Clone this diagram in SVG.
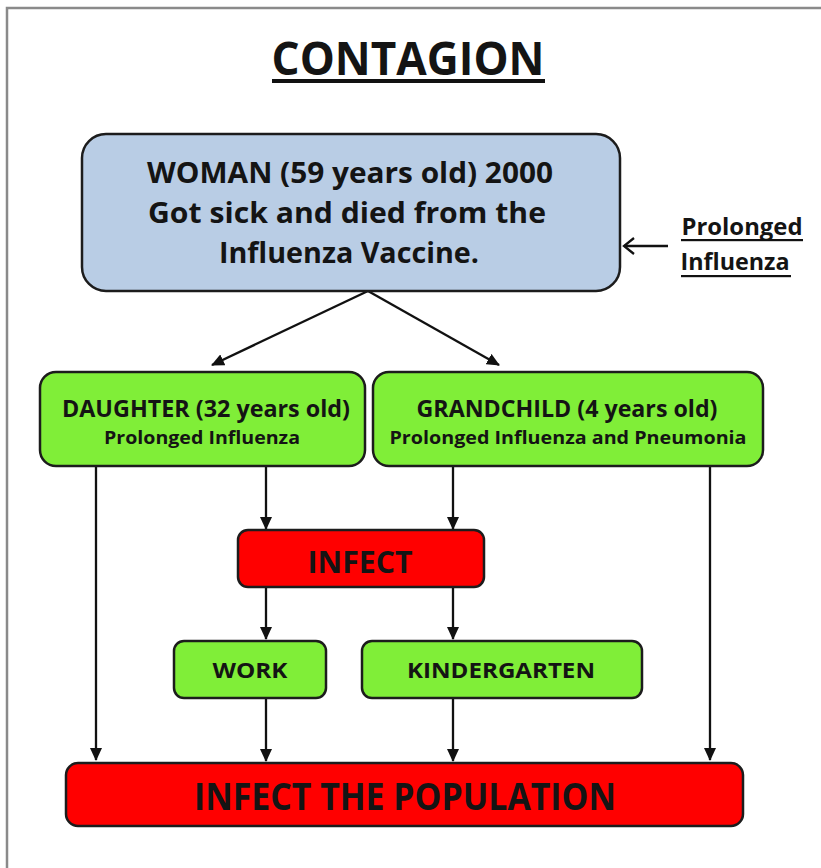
<svg xmlns="http://www.w3.org/2000/svg" width="821" height="868" viewBox="0 0 821 868">
<style>
  text { font-family: "Open Sans", "Liberation Sans", sans-serif; font-weight: 700; fill: #141414; text-anchor: middle; }
  .box { stroke: #1c1c1c; stroke-width: 2.5; }
  .blue { fill: #b9cde5; }
  .green { fill: #80ee38; }
  .red { fill: #ff0000; }
  .conn { stroke: #111; stroke-width: 2.3; fill: none; }
</style>
<defs>
  <marker id="ah" markerWidth="13" markerHeight="12" refX="12" refY="6" orient="auto" markerUnits="userSpaceOnUse">
    <path d="M0,0 L13,6 L0,12 Z" fill="#111"/>
  </marker>
</defs>
<rect x="0" y="0" width="821" height="868" fill="#ffffff"/>
<path d="M7,868 L7,8 L821,8" fill="none" stroke="#8a8a8a" stroke-width="2.5"/>

<g id="title">
  <text x="408" y="75" font-size="46" font-weight="600" textLength="273" lengthAdjust="spacingAndGlyphs">CONTAGION</text>
  <rect x="272" y="79" width="273" height="4" fill="#111"/>
</g>

<g id="connectors">
  <line class="conn" x1="368" y1="291" x2="212" y2="365" marker-end="url(#ah)"/>
  <line class="conn" x1="368" y1="291" x2="499" y2="365" marker-end="url(#ah)"/>
  <line class="conn" x1="668" y1="246" x2="624" y2="246"/>
  <path class="conn" d="M634,238 L624,246 L634,254"/>
  <line class="conn" x1="96" y1="466" x2="96" y2="760" marker-end="url(#ah)"/>
  <line class="conn" x1="266" y1="466" x2="266" y2="529" marker-end="url(#ah)"/>
  <line class="conn" x1="453" y1="466" x2="453" y2="529" marker-end="url(#ah)"/>
  <line class="conn" x1="710" y1="466" x2="710" y2="760" marker-end="url(#ah)"/>
  <line class="conn" x1="266" y1="587" x2="266" y2="639" marker-end="url(#ah)"/>
  <line class="conn" x1="453" y1="587" x2="453" y2="639" marker-end="url(#ah)"/>
  <line class="conn" x1="266" y1="698" x2="266" y2="761" marker-end="url(#ah)"/>
  <line class="conn" x1="453" y1="698" x2="453" y2="761" marker-end="url(#ah)"/>
</g>

<g id="woman">
  <rect class="box blue" x="82" y="134" width="538" height="157" rx="24"/>
  <text x="350" y="183" font-size="29" font-weight="600" textLength="406" lengthAdjust="spacingAndGlyphs">WOMAN (59 years old) 2000</text>
  <text x="347" y="223" font-size="29" font-weight="600" textLength="398" lengthAdjust="spacingAndGlyphs">Got sick and died from the</text>
  <text x="349" y="263" font-size="29" font-weight="600" textLength="260" lengthAdjust="spacingAndGlyphs">Influenza Vaccine.</text>
</g>

<g id="prolonged">
  <text x="742" y="235" font-size="23" font-weight="600" textLength="121" lengthAdjust="spacingAndGlyphs">Prolonged</text>
  <rect x="681" y="239" width="122" height="2.2" fill="#111"/>
  <text x="735" y="270" font-size="23" font-weight="600" textLength="109" lengthAdjust="spacingAndGlyphs">Influenza</text>
  <rect x="681" y="275" width="110" height="2.2" fill="#111"/>
</g>

<g id="daughter">
  <rect class="box green" x="40" y="372" width="325" height="94" rx="16"/>
  <text x="206" y="417" font-size="23" textLength="288" lengthAdjust="spacingAndGlyphs">DAUGHTER (32 years old)</text>
  <text x="202" y="444" font-size="17" textLength="196" lengthAdjust="spacingAndGlyphs">Prolonged Influenza</text>
</g>

<g id="grandchild">
  <rect class="box green" x="373" y="372" width="390" height="94" rx="16"/>
  <text x="567" y="417" font-size="23" textLength="301" lengthAdjust="spacingAndGlyphs">GRANDCHILD (4 years old)</text>
  <text x="568" y="444" font-size="17" textLength="357" lengthAdjust="spacingAndGlyphs">Prolonged Influenza and Pneumonia</text>
</g>

<g id="infect">
  <rect class="box red" x="238" y="530" width="246" height="57" rx="10"/>
  <text x="360" y="573" font-size="30" textLength="105" lengthAdjust="spacingAndGlyphs">INFECT</text>
</g>

<g id="work">
  <rect class="box green" x="174" y="641" width="152" height="57" rx="10"/>
  <text x="250" y="678" font-size="22" textLength="75" lengthAdjust="spacingAndGlyphs">WORK</text>
</g>

<g id="kindergarten">
  <rect class="box green" x="362" y="641" width="280" height="57" rx="10"/>
  <text x="501" y="678" font-size="22" textLength="188" lengthAdjust="spacingAndGlyphs">KINDERGARTEN</text>
</g>

<g id="population">
  <rect class="box red" x="66" y="763" width="677" height="63" rx="12"/>
  <text x="405" y="810" font-size="38" textLength="422" lengthAdjust="spacingAndGlyphs">INFECT THE POPULATION</text>
</g>
</svg>
